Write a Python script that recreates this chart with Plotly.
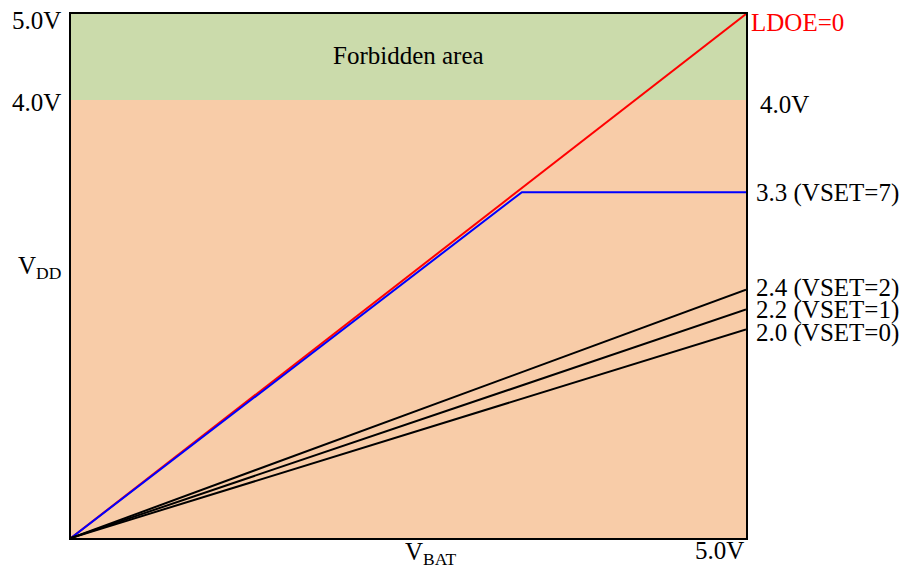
import plotly.graph_objects as go

# Data (schematic voltages)
vbat_ldoe = [0.0, 5.0]
vdd_ldoe = [0.0, 5.0]
vbat_vset7 = [0.0, 3.34, 5.0]
vdd_vset7 = [0.0, 3.3, 3.3]
vbat_lin = [0.0, 5.0]
vdd_vset2 = [0.0, 2.37]
vdd_vset1 = [0.0, 2.18]
vdd_vset0 = [0.0, 1.99]
forbidden_low = 4.18
forbidden_high = 5.0

right_labels = ["LDOE=0", "4.0V", "3.3 (VSET=7)", "2.4 (VSET=2)", "2.2 (VSET=1)", "2.0 (VSET=0)"]
right_label_y = [4.92, 4.14, 3.29, 2.39, 2.18, 1.96]
right_label_colors = ["red", "black", "black", "black", "black", "black"]
right_label_shift = [3, 12, 8, 8, 8, 8]
left_labels = ["5.0V", "4.0V"]
left_label_y = [4.94, 4.16]

FONT = "Liberation Serif"
FS = 25

fig = go.Figure()
fig.add_trace(go.Scatter(x=vbat_ldoe, y=vdd_ldoe, mode="lines",
                         line=dict(color="red", width=2), showlegend=False, hoverinfo="skip"))
fig.add_trace(go.Scatter(x=vbat_vset7, y=vdd_vset7, mode="lines",
                         line=dict(color="blue", width=2), showlegend=False, hoverinfo="skip"))
for yy in (vdd_vset2, vdd_vset1, vdd_vset0):
    fig.add_trace(go.Scatter(x=vbat_lin, y=yy, mode="lines",
                             line=dict(color="black", width=2), showlegend=False, hoverinfo="skip"))

fig.add_shape(type="rect", xref="x", yref="y", x0=0, x1=5, y0=forbidden_low, y1=forbidden_high,
              fillcolor="#CBDBAB", line=dict(width=0), layer="below")

ann = []
ann.append(dict(xref="x", yref="y", x=2.5, y=4.6, text="Forbidden area", showarrow=False,
                font=dict(size=FS, color="black", family=FONT)))
for t, yv, c, sh in zip(right_labels, right_label_y, right_label_colors, right_label_shift):
    ann.append(dict(xref="paper", yref="y", x=1, y=yv, xanchor="left", xshift=sh,
                    text=t, showarrow=False, font=dict(size=FS, color=c, family=FONT)))
for t, yv in zip(left_labels, left_label_y):
    ann.append(dict(xref="paper", yref="y", x=0, y=yv, xanchor="right", xshift=-8,
                    text=t, showarrow=False, font=dict(size=FS, color="black", family=FONT)))
ann.append(dict(xref="paper", yref="y", x=0, y=2.58, xanchor="right", xshift=-8,
                text="V<sub>DD</sub>", showarrow=False, font=dict(size=FS, color="black", family=FONT)))
ann.append(dict(xref="x", yref="paper", x=2.66, y=0, yanchor="top", yshift=2,
                text="V<sub>BAT</sub>", showarrow=False, font=dict(size=FS, color="black", family=FONT)))
ann.append(dict(xref="paper", yref="paper", x=1, y=0, xanchor="right", yanchor="top", yshift=3,
                text="5.0V", showarrow=False, font=dict(size=FS, color="black", family=FONT)))

fig.update_layout(
    width=906, height=572,
    margin=dict(l=71, r=160, t=12, b=34),
    paper_bgcolor="white",
    plot_bgcolor="#F8CCA8",
    annotations=ann,
    xaxis=dict(range=[0, 5], showgrid=False, zeroline=False, showticklabels=False, ticks="",
               showline=True, linecolor="black", linewidth=2, mirror=True),
    yaxis=dict(range=[0, 5], showgrid=False, zeroline=False, showticklabels=False, ticks="",
               showline=True, linecolor="black", linewidth=2, mirror=True),
)
fig.write_html("out.html", config={"displayModeBar": False},
               post_script="document.body.style.margin='0';")
